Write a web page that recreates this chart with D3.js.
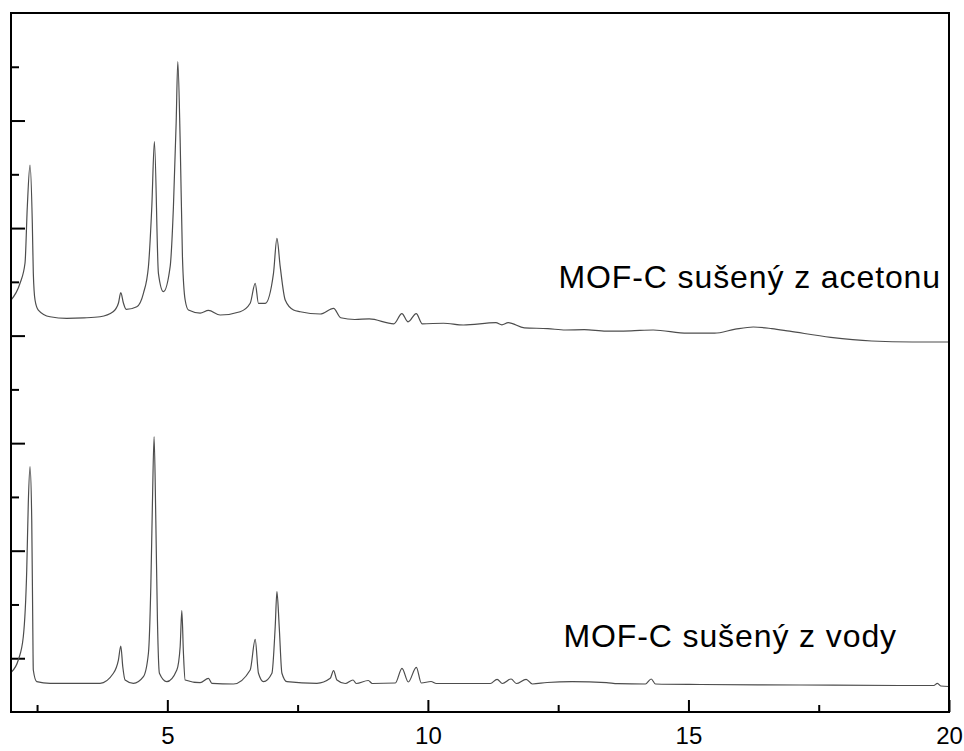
<!DOCTYPE html>
<html>
<head>
<meta charset="utf-8">
<script src="https://cdn.jsdelivr.net/npm/d3@7"></script>
<style>
	body { margin: 0; background: #fff; }
	#chartDiv { width: 964px; height: 751px; }
	.axis path { display: none; }
	.axis line { stroke: #000; stroke-width: 2px; }
	.axis text { font-family: "Liberation Sans", Arial, sans-serif; font-size: 24px; fill: #000; }
</style>
</head>
<body>
<div id="chartDiv"></div>
<script>
;(function() {

	// 2-theta (deg) and intensity (a.u.)
	var acetonX = [2.000, 2.173, 2.269, 2.313, 2.365, 2.409, 2.428, 2.461, 2.524, 2.749, 3.070, 3.400, 3.709, 3.959, 4.061, 4.107, 4.157, 4.209, 4.414, 4.541, 4.637, 4.702, 4.752, 4.829, 4.925, 5.054, 5.117, 5.169, 5.201, 5.246, 5.290, 5.342, 5.405, 5.630, 5.789, 6.014, 6.398, 6.590, 6.686, 6.749, 6.878, 7.037, 7.103, 7.166, 7.262, 7.422, 7.550, 7.934, 8.190, 8.326, 8.600, 8.875, 9.346, 9.501, 9.620, 9.776, 9.893, 10.300, 10.681, 11.305, 11.420, 11.541, 11.852, 12.300, 12.640, 13.000, 13.421, 13.900, 14.324, 14.982, 15.501, 15.900, 16.244, 16.600, 16.941, 17.731, 18.516, 19.304, 20.000];
	var acetonY = [7.662, 7.973, 8.350, 9.397, 10.173, 9.094, 8.164, 7.662, 7.476, 7.351, 7.322, 7.330, 7.351, 7.444, 7.601, 7.798, 7.606, 7.489, 7.538, 7.787, 8.282, 9.397, 10.606, 8.159, 7.817, 8.282, 9.397, 10.948, 12.094, 10.638, 8.468, 7.662, 7.476, 7.420, 7.470, 7.383, 7.444, 7.601, 7.973, 7.601, 7.601, 8.159, 8.810, 8.282, 7.662, 7.476, 7.444, 7.402, 7.508, 7.333, 7.300, 7.311, 7.220, 7.410, 7.257, 7.410, 7.220, 7.230, 7.197, 7.240, 7.200, 7.240, 7.144, 7.130, 7.104, 7.110, 7.082, 7.090, 7.104, 7.045, 7.045, 7.120, 7.160, 7.130, 7.082, 6.968, 6.900, 6.881, 6.881];

	var vodaX = [2.013, 2.140, 2.236, 2.302, 2.332, 2.365, 2.398, 2.417, 2.428, 2.494, 2.749, 3.709, 3.965, 4.061, 4.107, 4.145, 4.189, 4.349, 4.541, 4.637, 4.683, 4.714, 4.746, 4.779, 4.810, 4.848, 4.990, 5.182, 5.246, 5.278, 5.309, 5.342, 5.630, 5.789, 5.854, 6.269, 6.590, 6.686, 6.749, 6.845, 7.007, 7.070, 7.103, 7.147, 7.199, 7.295, 7.871, 8.126, 8.190, 8.255, 8.414, 8.562, 8.626, 8.856, 8.933, 9.375, 9.503, 9.624, 9.778, 9.874, 10.060, 10.162, 11.199, 11.328, 11.430, 11.597, 11.698, 11.885, 12.006, 12.288, 12.768, 13.427, 13.644, 14.176, 14.285, 14.368, 15.232, 17.153, 19.073, 19.707, 19.778, 19.841, 20.000];
	var vodaY = [0.749, 0.967, 1.400, 2.641, 3.887, 4.562, 3.571, 1.711, 0.781, 0.564, 0.534, 0.534, 0.720, 0.967, 1.227, 0.842, 0.595, 0.534, 0.657, 1.092, 2.330, 3.887, 5.120, 3.571, 1.711, 0.720, 0.564, 0.781, 1.214, 1.884, 1.092, 0.595, 0.545, 0.627, 0.534, 0.521, 0.781, 1.352, 0.720, 0.564, 0.720, 1.587, 2.238, 1.587, 0.720, 0.564, 0.534, 0.627, 0.768, 0.595, 0.530, 0.595, 0.530, 0.586, 0.530, 0.539, 0.813, 0.558, 0.831, 0.539, 0.567, 0.530, 0.530, 0.608, 0.530, 0.614, 0.530, 0.608, 0.521, 0.549, 0.564, 0.545, 0.526, 0.521, 0.614, 0.521, 0.511, 0.502, 0.493, 0.493, 0.534, 0.484, 0.474];

	var xMajorTicks = [5, 10, 15, 20];
	var xMinorTicks = [2.5, 7.5, 12.5, 17.5];
	var yMajorTicks = [1, 3, 5, 7, 9, 11];
	var yMinorTicks = [2, 4, 6, 8, 10, 12];

	var labels = ["MOF-C sušený z acetonu", "MOF-C sušený z vody"];
	var labelPos = [{ x: 12.505, y: 7.885 }, { x: 12.60, y: 1.214 }];

	var dataXRange = { min: 2, max: 20 };
	var dataYRange = { min: 0, max: 13 };

	var margin = { top: 13, right: 15, bottom: 39, left: 11 };
	var width = 964;
	var height = 751;
	var lineColor = "#4d4d4d";

	var chart, chartWidth, chartHeight;

	init();

	function init() {
		chartWidth = width - margin.left - margin.right;
		chartHeight = height - margin.top - margin.bottom;

		initializeChart();
		createAxes();
		drawLine(acetonX, acetonY);
		drawLine(vodaX, vodaY);
		drawLabels();
		drawFrame();
	}

	function initializeChart() {
		chart = d3.select("#chartDiv").append("svg")
			.attr("width", width)
			.attr("height", height);

		chart.plotArea = chart.append("g")
			.attr("transform", "translate(" + margin.left + "," + margin.top + ")");
	}

	function createAxes() {
		chart.xScale = d3.scaleLinear()
			.domain([dataXRange.min, dataXRange.max])
			.range([0, chartWidth]);

		chart.yScale = d3.scaleLinear()
			.domain([dataYRange.min, dataYRange.max])
			.range([chartHeight, 0]);

		// x ticks point inward
		chart.plotArea.append("g")
			.attr("class", "x axis")
			.attr("transform", "translate(0," + chartHeight + ")")
			.call(d3.axisBottom(chart.xScale).tickValues(xMajorTicks).tickSize(-12).tickPadding(15).tickFormat(d3.format("d")));

		chart.plotArea.append("g")
			.attr("class", "x axis minor")
			.attr("transform", "translate(0," + chartHeight + ")")
			.call(d3.axisBottom(chart.xScale).tickValues(xMinorTicks).tickSize(-7).tickFormat(""));

		// y ticks, no labels
		chart.plotArea.append("g")
			.attr("class", "y axis")
			.call(d3.axisLeft(chart.yScale).tickValues(yMajorTicks).tickSize(-14).tickFormat(""));

		chart.plotArea.append("g")
			.attr("class", "y axis minor")
			.call(d3.axisLeft(chart.yScale).tickValues(yMinorTicks).tickSize(-8).tickFormat(""));
	}

	function drawLine(xs, ys) {
		var pts = xs.map(function(x, i) { return [x, ys[i]]; });
		var line = d3.line()
			.curve(d3.curveMonotoneX)
			.x(function(d) { return chart.xScale(d[0]); })
			.y(function(d) { return chart.yScale(d[1]); });

		chart.plotArea.append("path")
			.datum(pts)
			.attr("fill", "none")
			.attr("stroke", lineColor)
			.attr("stroke-width", 1.2)
			.attr("stroke-linejoin", "round")
			.attr("d", line);
	}

	function drawLabels() {
		chart.plotArea.selectAll(".series-label")
			.data(labels)
			.enter().append("text")
				.attr("class", "series-label")
				.attr("x", function(d, i) { return chart.xScale(labelPos[i].x); })
				.attr("y", function(d, i) { return chart.yScale(labelPos[i].y); })
				.attr("text-anchor", "start")
				.style("font-family", "'Liberation Sans', Arial, sans-serif")
				.style("font-size", "32px")
				.style("letter-spacing", "0.9px")
				.style("fill", "#000")
				.text(function(d) { return d; });
	}

	function drawFrame() {
		chart.plotArea.append("rect")
			.attr("x", 0)
			.attr("y", 0)
			.attr("width", chartWidth)
			.attr("height", chartHeight)
			.attr("fill", "none")
			.attr("stroke", "#000")
			.attr("stroke-width", 2);
	}
})();
</script>
</body>
</html>
